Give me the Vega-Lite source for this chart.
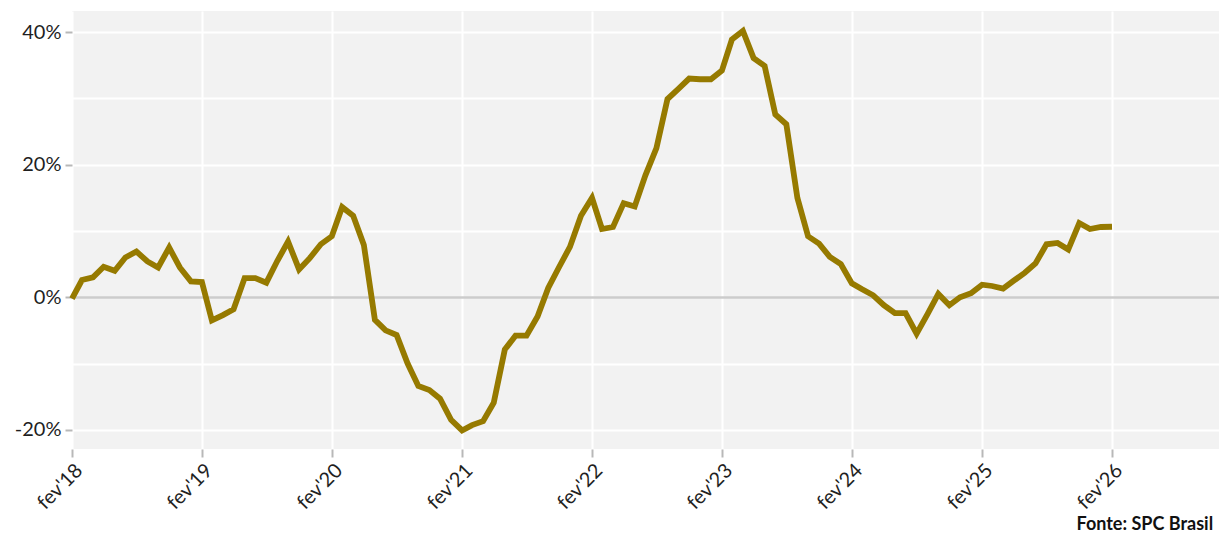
{
  "$schema": "https://vega.github.io/schema/vega-lite/v6.json",
  "width": 1147,
  "height": 438,
  "autosize": {"type": "none"},
  "padding": {"left": 72, "top": 11, "right": 0, "bottom": 85},
  "background": "white",
  "config": {
    "view": {"fill": "#F2F2F2", "stroke": null},
    "font": "Lato"
  },
  "data": {
    "values": [
      {"mes": "2018-02-01", "v": -0.2}, {"mes": "2018-03-01", "v": 2.6}, {"mes": "2018-04-01", "v": 3.0}, {"mes": "2018-05-01", "v": 4.6},
      {"mes": "2018-06-01", "v": 4.0}, {"mes": "2018-07-01", "v": 6.0}, {"mes": "2018-08-01", "v": 6.9}, {"mes": "2018-09-01", "v": 5.4},
      {"mes": "2018-10-01", "v": 4.5}, {"mes": "2018-11-01", "v": 7.5}, {"mes": "2018-12-01", "v": 4.5}, {"mes": "2019-01-01", "v": 2.4},
      {"mes": "2019-02-01", "v": 2.3}, {"mes": "2019-03-01", "v": -3.5}, {"mes": "2019-04-01", "v": -2.7}, {"mes": "2019-05-01", "v": -1.8},
      {"mes": "2019-06-01", "v": 2.9}, {"mes": "2019-07-01", "v": 2.9}, {"mes": "2019-08-01", "v": 2.2}, {"mes": "2019-09-01", "v": 5.5},
      {"mes": "2019-10-01", "v": 8.4}, {"mes": "2019-11-01", "v": 4.2}, {"mes": "2019-12-01", "v": 5.9}, {"mes": "2020-01-01", "v": 8.0},
      {"mes": "2020-02-01", "v": 9.2}, {"mes": "2020-03-01", "v": 13.6}, {"mes": "2020-04-01", "v": 12.3}, {"mes": "2020-05-01", "v": 7.9},
      {"mes": "2020-06-01", "v": -3.4}, {"mes": "2020-07-01", "v": -5.0}, {"mes": "2020-08-01", "v": -5.7}, {"mes": "2020-09-01", "v": -10.0},
      {"mes": "2020-10-01", "v": -13.4}, {"mes": "2020-11-01", "v": -14.0}, {"mes": "2020-12-01", "v": -15.3}, {"mes": "2021-01-01", "v": -18.5},
      {"mes": "2021-02-01", "v": -20.1}, {"mes": "2021-03-01", "v": -19.3}, {"mes": "2021-04-01", "v": -18.7}, {"mes": "2021-05-01", "v": -15.9},
      {"mes": "2021-06-01", "v": -7.9}, {"mes": "2021-07-01", "v": -5.8}, {"mes": "2021-08-01", "v": -5.8}, {"mes": "2021-09-01", "v": -2.9},
      {"mes": "2021-10-01", "v": 1.4}, {"mes": "2021-11-01", "v": 4.6}, {"mes": "2021-12-01", "v": 7.6}, {"mes": "2022-01-01", "v": 12.3},
      {"mes": "2022-02-01", "v": 15.0}, {"mes": "2022-03-01", "v": 10.3}, {"mes": "2022-04-01", "v": 10.6}, {"mes": "2022-05-01", "v": 14.2},
      {"mes": "2022-06-01", "v": 13.7}, {"mes": "2022-07-01", "v": 18.4}, {"mes": "2022-08-01", "v": 22.5}, {"mes": "2022-09-01", "v": 29.9},
      {"mes": "2022-10-01", "v": 31.4}, {"mes": "2022-11-01", "v": 33.0}, {"mes": "2022-12-01", "v": 32.9}, {"mes": "2023-01-01", "v": 32.9},
      {"mes": "2023-02-01", "v": 34.2}, {"mes": "2023-03-01", "v": 38.9}, {"mes": "2023-04-01", "v": 40.2}, {"mes": "2023-05-01", "v": 36.1},
      {"mes": "2023-06-01", "v": 34.9}, {"mes": "2023-07-01", "v": 27.6}, {"mes": "2023-08-01", "v": 26.1}, {"mes": "2023-09-01", "v": 15.0},
      {"mes": "2023-10-01", "v": 9.2}, {"mes": "2023-11-01", "v": 8.1}, {"mes": "2023-12-01", "v": 6.1}, {"mes": "2024-01-01", "v": 5.0},
      {"mes": "2024-02-01", "v": 2.1}, {"mes": "2024-03-01", "v": 1.2}, {"mes": "2024-04-01", "v": 0.3}, {"mes": "2024-05-01", "v": -1.2},
      {"mes": "2024-06-01", "v": -2.4}, {"mes": "2024-07-01", "v": -2.4}, {"mes": "2024-08-01", "v": -5.5}, {"mes": "2024-09-01", "v": -2.5},
      {"mes": "2024-10-01", "v": 0.5}, {"mes": "2024-11-01", "v": -1.2}, {"mes": "2024-12-01", "v": 0.0}, {"mes": "2025-01-01", "v": 0.6},
      {"mes": "2025-02-01", "v": 1.9}, {"mes": "2025-03-01", "v": 1.7}, {"mes": "2025-04-01", "v": 1.3}, {"mes": "2025-05-01", "v": 2.5},
      {"mes": "2025-06-01", "v": 3.7}, {"mes": "2025-07-01", "v": 5.1}, {"mes": "2025-08-01", "v": 8.0}, {"mes": "2025-09-01", "v": 8.2},
      {"mes": "2025-10-01", "v": 7.2}, {"mes": "2025-11-01", "v": 11.2}, {"mes": "2025-12-01", "v": 10.3}, {"mes": "2026-01-01", "v": 10.6},
      {"mes": "2026-02-01", "v": 10.64}
    ]
  },
  "encoding": {
    "x": {
      "field": "mes",
      "type": "temporal",
      "scale": {"type": "utc", "domain": [1517443200000, 1795875840000]},
      "axis": {
        "values": [1517443200000, 1548979200000, 1580515200000, 1612137600000, 1643673600000, 1675209600000, 1706745600000, 1738368000000, 1769904000000],
        "labelExpr": "\"fev'\" + utcFormat(datum.value, '%y')",
        "labelAngle": -45,
        "labelAlign": "right",
        "labelBaseline": "top",
        "labelFontSize": 20,
        "labelColor": "#1f1f1f",
        "labelPadding": 3,
        "labelFlush": false,
        "labelOverlap": false,
        "domain": false,
        "grid": true,
        "gridColor": "white",
        "gridWidth": 2,
        "ticks": true,
        "tickColor": "#b8b8b8",
        "tickWidth": 2,
        "tickSize": 8,
        "title": "Fonte: SPC Brasil",
        "titleFont": "Lato",
        "titleFontSize": 18,
        "titleFontWeight": "bold",
        "titleColor": "#111111",
        "titleAnchor": null,
        "titleAlign": "left",
        "titleBaseline": "middle",
        "titleX": 1004,
        "titleY": 75
      }
    },
    "y": {
      "field": "v",
      "type": "quantitative",
      "scale": {"domain": [-22.9, 43.2], "nice": false, "zero": false},
      "axis": {
        "values": [-20, -10, 0, 10, 20, 30, 40],
        "labelExpr": "datum.value % 20 === 0 ? datum.value + '%' : ''",
        "labelFontSize": 20,
        "labelColor": "#1f1f1f",
        "labelPadding": 4,
        "domain": false,
        "grid": true,
        "gridColor": {"condition": {"test": "datum.value === 0", "value": "#CCCCCC"}, "value": "white"},
        "gridWidth": {"condition": {"test": "datum.value === 0", "value": 2.5}, "value": 2},
        "tickColor": "#b8b8b8",
        "tickWidth": 2,
        "tickSize": 7,
        "tickOpacity": {"condition": {"test": "datum.value % 20 !== 0", "value": 0}, "value": 1},
        "title": null
      }
    }
  },
  "layer": [
    {
      "mark": {"type": "line", "color": "#967A00", "strokeWidth": 5.8, "strokeJoin": "miter"}
    },
    {
      "transform": [{"filter": "datum.mes === '2026-02-01'"}],
      "mark": {"type": "text", "align": "left", "baseline": "middle", "dx": 9, "fontSize": 17, "fontWeight": "bold", "font": "Lato", "color": "#111111"},
      "encoding": {"text": {"value": "10,64%"}}
    }
  ]
}
